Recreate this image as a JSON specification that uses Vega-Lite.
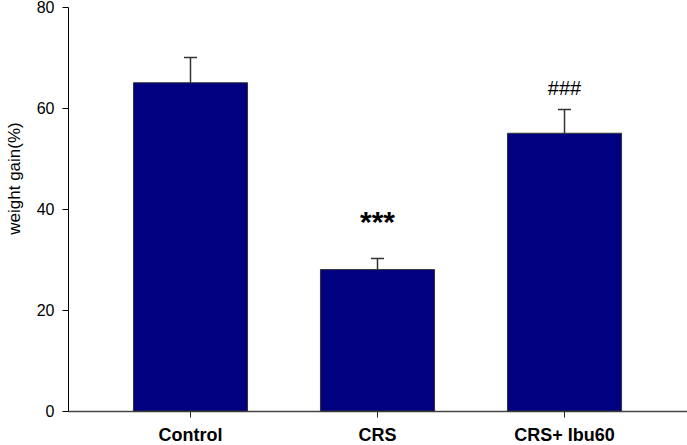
{
  "$schema": "https://vega.github.io/schema/vega-lite/v6.json",
  "width": 619,
  "height": 404,
  "autosize": "none",
  "padding": {"left": 68, "top": 7, "right": 0, "bottom": 34},
  "background": "white",
  "config": {"view": {"stroke": null}, "font": "Liberation Sans"},
  "data": {"values": [
    {"group": "Control", "mean": 65, "upper": 70},
    {"group": "CRS", "mean": 28, "upper": 30.2, "sig": "***", "label_y": 35.4},
    {"group": "CRS+ Ibu60", "mean": 55, "upper": 59.7, "sig": "###", "label_y": 63.8}
  ]},
  "encoding": {
    "x": {
      "field": "group", "type": "nominal", "sort": null,
      "scale": {"paddingInner": 0.39, "paddingOuter": 0.35},
      "axis": {"title": null, "labelAngle": 0, "labelFontSize": 18, "labelFontWeight": "bold", "labelColor": "black", "tickSize": 6, "tickColor": "#222", "domainColor": "#444", "domainWidth": 1.5, "labelPadding": 9}
    }
  },
  "layer": [
    {
      "mark": {"type": "bar", "color": "#000080", "stroke": "#333", "strokeWidth": 1},
      "encoding": {
        "y": {"field": "mean", "type": "quantitative", "title": "weight gain(%)",
          "scale": {"domain": [0, 80], "nice": false},
          "axis": {"values": [0, 20, 40, 60, 80], "grid": false, "tickSize": 6, "tickColor": "black", "domainColor": "black", "labelFontSize": 16, "labelColor": "black", "labelPadding": 8, "titleFontSize": 17, "titleFontWeight": "normal", "titleColor": "black", "titlePadding": 13, "titleY": 171}}
      }
    },
    {
      "mark": {"type": "rule", "color": "#333", "strokeWidth": 1.5},
      "encoding": {
        "y": {"field": "mean", "type": "quantitative", "title": "weight gain(%)"},
        "y2": {"field": "upper"}
      }
    },
    {
      "mark": {"type": "tick", "size": 13, "thickness": 1.5, "color": "#333", "opacity": 1, "orient": "horizontal"},
      "encoding": {
        "y": {"field": "upper", "type": "quantitative", "title": "weight gain(%)"}
      }
    },
    {
      "transform": [{"filter": "datum.sig == '***'"}],
      "mark": {"type": "text", "fontSize": 30, "fontWeight": "bold", "color": "black", "baseline": "alphabetic"},
      "encoding": {
        "y": {"field": "label_y", "type": "quantitative", "title": "weight gain(%)"},
        "text": {"field": "sig"}
      }
    },
    {
      "transform": [{"filter": "datum.sig == '###'"}],
      "mark": {"type": "text", "fontSize": 20, "color": "black", "baseline": "middle"},
      "encoding": {
        "y": {"field": "label_y", "type": "quantitative", "title": "weight gain(%)"},
        "text": {"field": "sig"}
      }
    }
  ]
}
